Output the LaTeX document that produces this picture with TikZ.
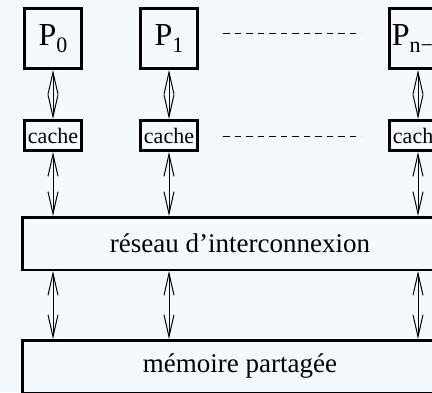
\documentclass[tikz,border=0pt]{standalone}
\usepackage{fontspec}
\setmainfont{Liberation Serif}
\usetikzlibrary{arrows.meta}
\definecolor{bg}{RGB}{244,249,254}
\newcommand\Psub[1]{P\raisebox{-7.5pt}{\fontsize{22}{22}\selectfont #1}}
\begin{document}
\begin{tikzpicture}[x=1pt,y=-1pt,
  pbox/.style={draw, line width=3pt, minimum width=57pt, minimum height=60pt, inner sep=0pt, font=\fontsize{32}{32}\selectfont},
  cbox/.style={draw, line width=3pt, minimum width=57pt, minimum height=30pt, inner sep=0pt, font=\fontsize{22}{22}\selectfont},
  wbox/.style={draw, line width=2.5pt, minimum width=435.5pt, minimum height=52.5pt, inner sep=0pt, font=\fontsize{27}{27}\selectfont},
  link/.style={{Straight Barb[length=22pt,width=10pt]}-{Straight Barb[length=22pt,width=10pt]}, line width=1pt},
  dots/.style={dash pattern=on 6.5pt off 5pt, line width=1pt}
]
\useasboundingbox (0,0) rectangle (432,392);
\fill[bg] (0,0) rectangle (432,392);
\clip (0,0) rectangle (432,392);

\node[pbox] (p0) at (53,38.5) {\Psub{0}};
\node[pbox] (p1) at (169,38.5) {\Psub{1}};
\node[pbox] (pn) at (418,38.5) {\Psub{n−1}};

\node[cbox] (c0) at (53,135.5) {cache};
\node[cbox] (c1) at (169,135.5) {cache};
\node[cbox] (cn) at (418,135.5) {cache};

\node[wbox] (net) at (240,243.5) {réseau d’interconnexion};
\node[wbox] (mem) at (240,366.5) {mémoire partagée};

\coordinate (da) at (223,33);  \coordinate (db) at (361,33);
\coordinate (dc) at (223,136); \coordinate (dd) at (361,136);
\draw[dots] (da) -- (db);
\draw[dots] (dc) -- (dd);

\foreach \p/\c in {p0/c0, p1/c1, pn/cn}{
  \draw[link] (\p.south) -- (\c.north);
  \draw[link] (\c.south) -- (\c.south |- net.north);
  \draw[link] (net.south -| \c) -- (mem.north -| \c);
}
\end{tikzpicture}
\end{document}
